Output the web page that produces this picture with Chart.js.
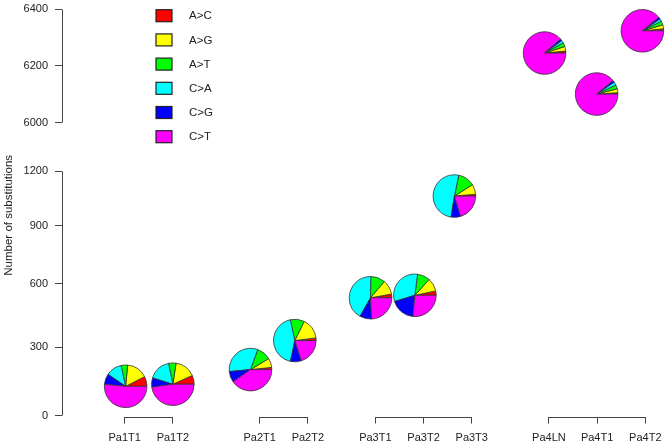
<!DOCTYPE html>
<html>
<head>
<meta charset="utf-8">
<title>Substitutions per sample</title>
<script src="https://cdn.jsdelivr.net/npm/chart.js@4.4.0/dist/chart.umd.min.js"></script>
<style>
  html, body { margin: 0; padding: 0; background: #fff; }
  #wrap { width: 669px; height: 441px; }
</style>
</head>
<body>
<div id="wrap"><canvas id="subsChart"></canvas></div>
<script>
// ---- data ----
const samples = ['Pa1T1', 'Pa1T2', 'Pa2T1', 'Pa2T2', 'Pa3T1', 'Pa3T2', 'Pa3T3', 'Pa4LN', 'Pa4T1', 'Pa4T2'];
const sampleTicks = [1, 2, 3.8, 4.8, 6.2, 7.2, 8.2, 9.8, 10.8, 11.8];
const pieX = [1.02, 2.0, 3.61, 4.53, 6.10, 7.02, 7.84, 9.71, 10.79, 11.74];
const totals = [126, 135, 199, 330, 532, 544, 1060, 6244, 6100, 6323];

const types = ['A>C', 'A>G', 'A>T', 'C>A', 'C>G', 'C>T'];
// share of each substitution type per sample (%)
const pctAC = [7.5, 6.8, 1.7, 2.0, 2.8, 3.3, 1.4, 1.5, 1.0, 1.5];
const pctAG = [16, 15.8, 7.0, 15.8, 11, 10, 7.5, 3.5, 3.0, 3.0];
const pctAT = [5, 5.7, 10.8, 10.6, 11, 9.7, 12.8, 3.0, 3.0, 3.0];
const pctCA = [12, 16.9, 32, 43.3, 42, 31.7, 50.8, 2.0, 2.5, 2.0];
const pctCG = [8, 7, 8.3, 8.3, 9, 18.9, 7.2, 1.5, 1.5, 1.5];
const pctCT = [51.5, 47.8, 40.3, 20, 24.2, 26.4, 20.3, 88.5, 89, 89];
const typeShares = [pctAC, pctAG, pctAT, pctCA, pctCG, pctCT];

const yTicks = [0, 300, 600, 900, 1200, 6000, 6200, 6400];

// ---- look ----
const typeColors = ['#ff0000', '#ffff00', '#00ff00', '#00ffff', '#0000ff', '#ff00ff'];
const FONT = '"Liberation Sans", Arial, Helvetica, sans-serif';
const INK = '#222';
const AXIS = '#444';
const PIE_R = 21.3;

// broken y axis: two value ranges, each on a slightly compressed (log-shifted) scale
const ySegments = [
  { lo: 0, hi: 1200, from: 0.0025, to: 0.6093 },
  { lo: 6000, hi: 6400, from: 0.7290, to: 1.0106 }
];
const Y_SHIFT = 3200;

class BrokenLogScale extends Chart.LinearScale {
  getPixelForValue(value) {
    let seg = ySegments[0];
    ySegments.forEach(s => { if (value >= s.lo) seg = s; });
    const f = v => Math.log(v + Y_SHIFT);
    const t = (f(value) - f(seg.lo)) / (f(seg.hi) - f(seg.lo));
    return this.getPixelForDecimal(seg.from + t * (seg.to - seg.from));
  }
}
BrokenLogScale.id = 'brokenlog';
BrokenLogScale.defaults = Chart.LinearScale.defaults;
Chart.register(BrokenLogScale);

const half = p => Math.round(p - 0.5) + 0.5;

// R-style axis lines: y in two pieces, x as one bracket per patient
const axisLinesPlugin = {
  id: 'axisLines',
  afterDraw(chart) {
    const { ctx, scales: { x, y } } = chart;
    ctx.save();
    ctx.strokeStyle = AXIS;
    ctx.lineWidth = 1;
    const ax = half(y.right + 0.5);
    ySegments.forEach(s => {
      ctx.beginPath();
      ctx.moveTo(ax, half(y.getPixelForValue(s.lo)));
      ctx.lineTo(ax, half(y.getPixelForValue(s.hi)));
      ctx.stroke();
    });
    const groups = {};
    samples.forEach((s, i) => {
      const g = s.slice(0, 3);
      (groups[g] = groups[g] || []).push(sampleTicks[i]);
    });
    const by = half(x.top + 0.5);
    Object.values(groups).forEach(ticks => {
      ctx.beginPath();
      ctx.moveTo(half(x.getPixelForValue(Math.min(...ticks))), by);
      ctx.lineTo(half(x.getPixelForValue(Math.max(...ticks))) + 0.5, by);
      ctx.stroke();
    });
    ctx.restore();
  }
};

// one pie per sample, R pie() order: start at 3 o'clock, counter-clockwise
const piePlugin = {
  id: 'pies',
  afterDatasetsDraw(chart) {
    const ctx = chart.ctx;
    const pts = chart.getDatasetMeta(0).data;
    ctx.save();
    ctx.strokeStyle = '#333';
    ctx.lineWidth = 0.8;
    pts.forEach((pt, i) => {
      const shares = typeShares.map(a => a[i]);
      const sum = shares.reduce((a, b) => a + b, 0);
      let a0 = 0;
      shares.forEach((s, k) => {
        const a1 = a0 - s / sum * 2 * Math.PI;
        ctx.beginPath();
        ctx.moveTo(pt.x, pt.y);
        ctx.arc(pt.x, pt.y, PIE_R, a0, a1, true);
        ctx.closePath();
        ctx.fillStyle = typeColors[k];
        ctx.fill();
        ctx.stroke();
        a0 = a1;
      });
    });
    ctx.restore();
  }
};

const legendPlugin = {
  id: 'typeLegend',
  afterDraw(chart) {
    const ctx = chart.ctx;
    ctx.save();
    ctx.font = '11.5px ' + FONT;
    ctx.textBaseline = 'middle';
    ctx.lineWidth = 1.2;
    types.forEach((t, k) => {
      const cy = 15.7 + k * 24.2;
      ctx.fillStyle = typeColors[k];
      ctx.fillRect(156, cy - 6, 16, 12);
      ctx.strokeStyle = INK;
      ctx.strokeRect(156, cy - 6, 16, 12);
      ctx.fillStyle = INK;
      ctx.fillText(t, 189, cy + 0.5);
    });
    ctx.restore();
  }
};

new Chart(document.getElementById('subsChart'), {
  type: 'scatter',
  data: {
    datasets: [{
      label: 'Total substitutions',
      data: samples.map((s, i) => ({ x: pieX[i], y: totals[i] })),
      pointRadius: 0,
      pointHoverRadius: 0
    }]
  },
  options: {
    responsive: true,
    maintainAspectRatio: false,
    animation: false,
    layout: { padding: { top: 10, left: 0, right: 0, bottom: 0 } },
    plugins: { legend: { display: false }, tooltip: { enabled: false } },
    scales: {
      x: {
        type: 'linear',
        min: -0.3,
        max: 12.228,
        afterBuildTicks: axis => { axis.ticks = sampleTicks.map(v => ({ value: v })); },
        afterFit: axis => { axis.height = 24; },
        border: { display: false },
        grid: { drawOnChartArea: false, tickLength: 6.5, color: AXIS },
        ticks: {
          autoSkip: false, maxRotation: 0, padding: 7.5, color: INK,
          font: { family: FONT, size: 11 },
          callback: (v, i) => samples[i]
        }
      },
      y: {
        type: 'brokenlog',
        min: 0,
        max: 6400,
        afterBuildTicks: axis => { axis.ticks = yTicks.map(v => ({ value: v })); },
        afterFit: axis => { axis.width = 62; },
        border: { display: false },
        grid: { drawOnChartArea: false, tickLength: 7, color: AXIS },
        ticks: {
          autoSkip: false, padding: 7, color: INK,
          font: { family: FONT, size: 11 },
          callback: v => String(v)
        },
        title: {
          display: true,
          text: 'Number of substitutions',
          color: INK,
          font: { family: FONT, size: 11.5 },
          padding: { top: 1.5, bottom: 0 }
        }
      }
    }
  },
  plugins: [axisLinesPlugin, piePlugin, legendPlugin]
});
</script>
</body>
</html>
